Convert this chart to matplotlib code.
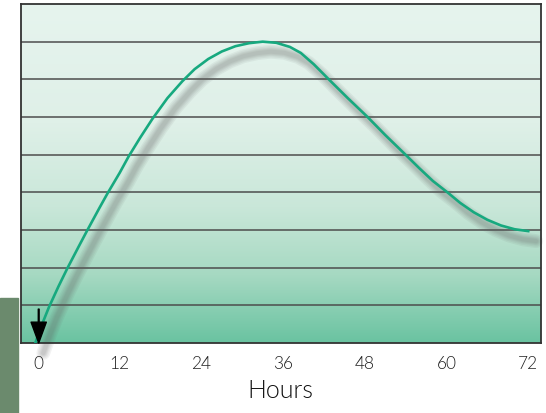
import matplotlib.pyplot as plt
import matplotlib.transforms as mtransforms
from matplotlib.colors import LinearSegmentedColormap
from matplotlib.patches import Rectangle
import numpy as np

# --- values ---
hours = [-0.4, 0.6, 1.6, 3.0, 4.3, 6.0, 7.2, 9.0, 10.2, 12.0, 13.3, 15.0,
         16.8, 19.0, 21.2, 23.0, 25.0, 27.0, 29.0, 31.0, 33.0, 35.0, 37.0,
         38.6, 40.5, 42.7, 45.5, 48.4, 51.0, 53.8, 56.0, 58.0, 60.2, 62.0,
         64.0, 66.0, 68.0, 70.0, 72.0]
level = [0.0, 0.5, 0.95, 1.5, 1.98, 2.57, 2.98, 3.58, 3.97, 4.52, 4.95, 5.45,
         5.95, 6.5, 6.95, 7.27, 7.54, 7.74, 7.88, 7.96, 8.0, 7.97, 7.86,
         7.7, 7.4, 7.0, 6.5, 6.0, 5.52, 5.03, 4.64, 4.3, 3.99, 3.72,
         3.47, 3.27, 3.12, 3.02, 2.97]
xticks = [0, 12, 24, 36, 48, 60, 72]
gridlevels = [1, 2, 3, 4, 5, 6, 7, 8]

fig = plt.figure(figsize=(5.46, 4.14), dpi=100)
ax = fig.add_axes([21 / 546, 70 / 414, 519.5 / 546, 339 / 414])
ax.set_xlim(-2.5, 73.8)
ax.set_ylim(0, 9)

# gradient background: pale at top, green at bottom
cmap = LinearSegmentedColormap.from_list(
    "bg", [(0.0, "#e6f4ee"), (0.35, "#dff0e8"), (0.6, "#c9e7d9"),
           (0.8, "#a6d9c2"), (1.0, "#6ac3a1")])
grad = np.linspace(1, 0, 256).reshape(-1, 1)
ax.imshow(grad, cmap=cmap, aspect="auto", extent=(-2.5, 73.8, 0, 9),
          origin="lower", zorder=0)

for g in gridlevels:
    ax.axhline(g, color="#4d4d4d", lw=1.1, zorder=1)

# blurred shadow under the curve
shadow = mtransforms.offset_copy(ax.transData, fig=fig, x=8, y=-10, units="dots")
for w in [10, 8, 6, 4.5, 3]:
    ax.plot(hours, level, color="#606060", lw=w, alpha=0.08,
            solid_capstyle="round", transform=shadow, clip_on=False, zorder=2)

ax.plot(hours, level, color="#17a97f", lw=1.9, zorder=3)

ax.annotate("", xy=(0.1, 0.0), xytext=(0.1, 0.9),
            arrowprops=dict(width=0.6, headwidth=11, headlength=15,
                            color="black"), zorder=4)

ax.set_xticks(xticks)
ax.set_xticklabels([str(t) for t in xticks], family="Lato", fontweight=300,
                   fontsize=12.5, color="#222222")
ax.tick_params(axis="x", length=0, pad=9)
ax.set_yticks([])
ax.set_xlabel("Hours", family="Lato", fontweight=300, fontsize=18,
              color="#111111", labelpad=5)
for s in ax.spines.values():
    s.set_color("#333333")
    s.set_linewidth(1.3)

fig.patches.append(Rectangle((0, 0), 18 / 546, 115 / 414, transform=fig.transFigure,
                             color="#6b8a6d", zorder=0))

fig.savefig("out.png", dpi=100)
